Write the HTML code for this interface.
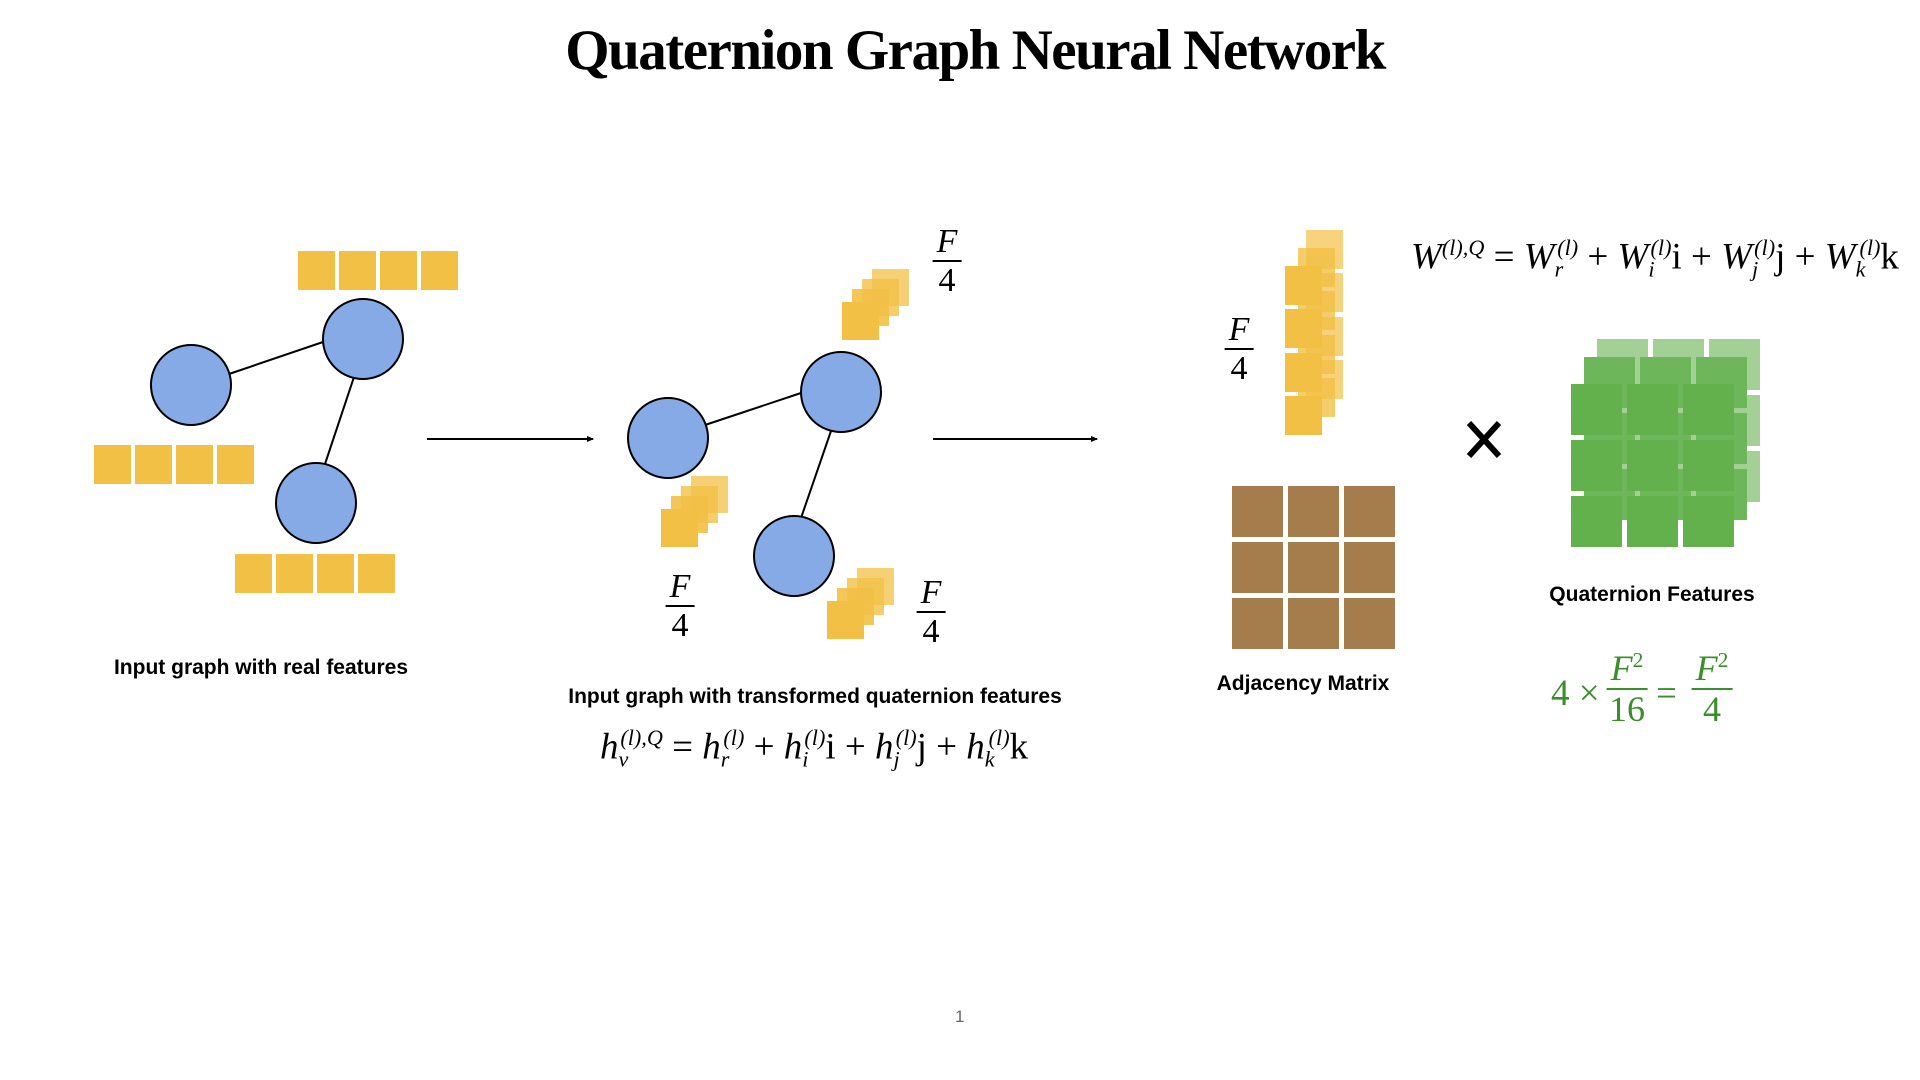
<!DOCTYPE html>
<html><head><meta charset="utf-8"><style>
body{margin:0;width:1920px;height:1080px;background:#fff;position:relative;overflow:hidden;font-family:"Liberation Sans",sans-serif}
.t{position:absolute;white-space:nowrap}
.lab{font-weight:bold;font-size:21px;color:#000;transform:translateX(-50%)}
.m{font-family:"Liberation Serif",serif;font-size:37px;color:#000}
.m i{font-style:italic}
.m sub,.m sup{font-size:60%;font-style:italic}
.fr{position:absolute;font-family:"Liberation Serif",serif;font-size:34px;text-align:center;transform:translateX(-50%);line-height:1.15}
.fr .n{font-style:italic;border-bottom:2px solid #000;padding:0 4px}
</style></head><body>
<div class="t" style="left:15px;width:1920px;top:18px;text-align:center;font-family:'Liberation Serif',serif;font-weight:bold;font-size:57px;letter-spacing:-1.5px">Quaternion Graph Neural Network</div>

<svg width="1920" height="1080" style="position:absolute;left:0;top:0">
<defs><marker id="ar" markerWidth="7" markerHeight="6" refX="6" refY="3" orient="auto" markerUnits="userSpaceOnUse"><path d="M0,0 L7,3 L0,6z" fill="#000"/></marker></defs>
<g fill="#f3c046">
<rect x="298" y="251" width="37" height="39"/><rect x="339" y="251" width="37" height="39"/><rect x="380" y="251" width="37" height="39"/><rect x="421" y="251" width="37" height="39"/>
<rect x="94" y="445" width="37" height="39"/><rect x="135" y="445" width="37" height="39"/><rect x="176" y="445" width="37" height="39"/><rect x="217" y="445" width="37" height="39"/>
<rect x="235" y="554" width="37" height="39"/><rect x="276" y="554" width="37" height="39"/><rect x="317" y="554" width="37" height="39"/><rect x="358" y="554" width="37" height="39"/>
</g>
<g stroke="#000" stroke-width="2">
<line x1="229" y1="374" x2="323" y2="342"/><line x1="354" y1="377" x2="324" y2="467"/>
<line x1="705" y1="425" x2="801" y2="393"/><line x1="831" y1="431" x2="801" y2="518"/>
</g>
<g fill="#86aae6" stroke="#000" stroke-width="2">
<ellipse cx="191" cy="385" rx="40" ry="40"/><ellipse cx="363" cy="339" rx="40" ry="40"/><ellipse cx="316" cy="503" rx="40" ry="40"/>
<ellipse cx="668" cy="438" rx="40" ry="40"/><ellipse cx="841" cy="392" rx="40" ry="40"/><ellipse cx="794" cy="556" rx="40" ry="40"/>
</g>
<line x1="427" y1="439" x2="593" y2="439" stroke="#000" stroke-width="2" marker-end="url(#ar)"/>
<line x1="933" y1="439" x2="1097" y2="439" stroke="#000" stroke-width="2" marker-end="url(#ar)"/>
<g fill="#f3c046">
<g transform="translate(842,269)"><rect x="30" y="0" width="37" height="37" opacity=".75"/><rect x="20" y="10" width="37" height="37" opacity=".8"/><rect x="10" y="20" width="37" height="37" opacity=".9"/><rect x="0" y="33" width="37" height="38"/></g>
<g transform="translate(661,476)"><rect x="30" y="0" width="37" height="37" opacity=".75"/><rect x="20" y="10" width="37" height="37" opacity=".8"/><rect x="10" y="20" width="37" height="37" opacity=".9"/><rect x="0" y="33" width="37" height="38"/></g>
<g transform="translate(827,568)"><rect x="30" y="0" width="37" height="37" opacity=".75"/><rect x="20" y="10" width="37" height="37" opacity=".8"/><rect x="10" y="20" width="37" height="37" opacity=".9"/><rect x="0" y="33" width="37" height="38"/></g>
</g>
<g fill="#f3c046">
<g opacity=".7"><rect x="1306" y="230" width="37" height="39"/><rect x="1306" y="273" width="37" height="39"/><rect x="1306" y="317" width="37" height="39"/><rect x="1306" y="360" width="37" height="39"/></g>
<g opacity=".8"><rect x="1298" y="248" width="37" height="39"/><rect x="1298" y="291" width="37" height="39"/><rect x="1298" y="335" width="37" height="39"/><rect x="1298" y="378" width="37" height="39"/></g>
<g><rect x="1285" y="266" width="37" height="39"/><rect x="1285" y="309" width="37" height="39"/><rect x="1285" y="353" width="37" height="39"/><rect x="1285" y="396" width="37" height="39"/></g>
</g>
<g fill="#a57d4c">
<rect x="1232" y="486" width="51" height="51"/><rect x="1288" y="486" width="51" height="51"/><rect x="1344" y="486" width="51" height="51"/>
<rect x="1232" y="542" width="51" height="51"/><rect x="1288" y="542" width="51" height="51"/><rect x="1344" y="542" width="51" height="51"/>
<rect x="1232" y="598" width="51" height="51"/><rect x="1288" y="598" width="51" height="51"/><rect x="1344" y="598" width="51" height="51"/>
</g>
<g stroke="#000" stroke-width="6"><line x1="1469" y1="423" x2="1499" y2="456"/><line x1="1499" y1="423" x2="1469" y2="456"/></g>
<g fill="#a3d195" transform="translate(1597,339)">
<rect x="0" y="0" width="51" height="51"/><rect x="56" y="0" width="51" height="51"/><rect x="112" y="0" width="51" height="51"/>
<rect x="0" y="56" width="51" height="51"/><rect x="56" y="56" width="51" height="51"/><rect x="112" y="56" width="51" height="51"/>
<rect x="0" y="112" width="51" height="51"/><rect x="56" y="112" width="51" height="51"/><rect x="112" y="112" width="51" height="51"/></g>
<g fill="#6db65a" transform="translate(1584,357)">
<rect x="0" y="0" width="51" height="51"/><rect x="56" y="0" width="51" height="51"/><rect x="112" y="0" width="51" height="51"/>
<rect x="0" y="56" width="51" height="51"/><rect x="56" y="56" width="51" height="51"/><rect x="112" y="56" width="51" height="51"/>
<rect x="0" y="112" width="51" height="51"/><rect x="56" y="112" width="51" height="51"/><rect x="112" y="112" width="51" height="51"/></g>
<g fill="#63b14c" transform="translate(1571,384)">
<rect x="0" y="0" width="51" height="51"/><rect x="56" y="0" width="51" height="51"/><rect x="112" y="0" width="51" height="51"/>
<rect x="0" y="56" width="51" height="51"/><rect x="56" y="56" width="51" height="51"/><rect x="112" y="56" width="51" height="51"/>
<rect x="0" y="112" width="51" height="51"/><rect x="56" y="112" width="51" height="51"/><rect x="112" y="112" width="51" height="51"/></g>
</svg>

<div class="t lab" style="left:261px;top:656px">Input graph with real features</div>
<div class="t lab" style="left:815px;top:685px">Input graph with transformed quaternion features</div>
<div class="t lab" style="left:1303px;top:672px">Adjacency Matrix</div>
<div class="t lab" style="left:1652px;top:583px">Quaternion Features</div>

<div class="fr" style="left:947px;top:222px"><span class="n">F</span><br>4</div>
<div class="fr" style="left:680px;top:567px"><span class="n">F</span><br>4</div>
<div class="fr" style="left:931px;top:573px"><span class="n">F</span><br>4</div>
<div class="fr" style="left:1239px;top:310px"><span class="n">F</span><br>4</div>

<div class="t m" style="left:600px;top:725px"><i>h</i><sub style="vertical-align:-8px">v</sub><sup style="margin-left:-8px">(<i>l</i>),<i>Q</i></sup> = <i>h</i><sub style="vertical-align:-8px">r</sub><sup style="margin-left:-6px">(<i>l</i>)</sup> + <i>h</i><sub style="vertical-align:-8px">i</sub><sup style="margin-left:-4px">(<i>l</i>)</sup>i + <i>h</i><sub style="vertical-align:-8px">j</sub><sup style="margin-left:-4px">(<i>l</i>)</sup>j + <i>h</i><sub style="vertical-align:-8px">k</sub><sup style="margin-left:-6px">(<i>l</i>)</sup>k</div>

<div class="t m" style="left:1411px;top:235px"><i>W</i><sup>(<i>l</i>),<i>Q</i></sup> = <i>W</i><sub style="vertical-align:-8px">r</sub><sup style="margin-left:-6px">(<i>l</i>)</sup> + <i>W</i><sub style="vertical-align:-8px">i</sub><sup style="margin-left:-4px">(<i>l</i>)</sup>i + <i>W</i><sub style="vertical-align:-8px">j</sub><sup style="margin-left:-4px">(<i>l</i>)</sup>j + <i>W</i><sub style="vertical-align:-8px">k</sub><sup style="margin-left:-6px">(<i>l</i>)</sup>k</div>

<div class="t m" style="left:1551px;top:672px;color:#3a8f2a">4 ×</div>
<div class="fr" style="left:1627px;top:648px;color:#3a8f2a;font-size:36px"><span class="n" style="border-color:#3a8f2a">F<sup style="font-style:normal;font-size:60%">2</sup></span><br>16</div>
<div class="t m" style="left:1656px;top:672px;color:#3a8f2a">=</div>
<div class="fr" style="left:1712px;top:648px;color:#3a8f2a;font-size:36px"><span class="n" style="border-color:#3a8f2a">F<sup style="font-style:normal;font-size:60%">2</sup></span><br>4</div>

<div class="t" style="left:955px;top:1007px;font-size:17px;color:#666">1</div>
</body></html>
